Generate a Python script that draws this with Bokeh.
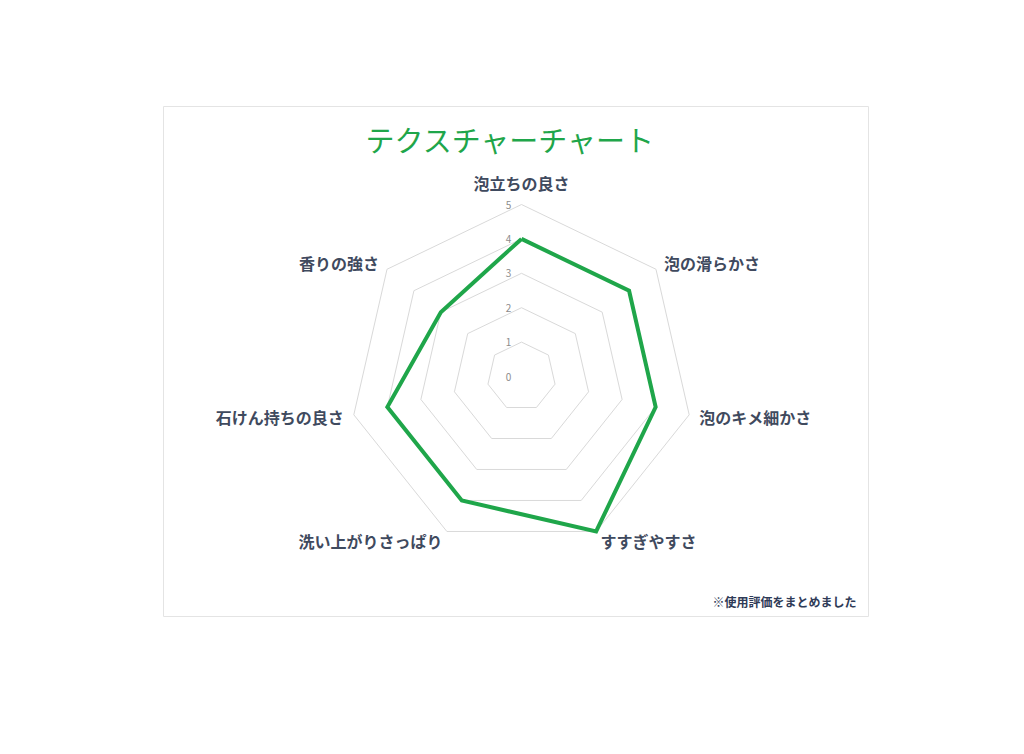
import numpy as np
from bokeh.plotting import figure, ColumnDataSource
from bokeh.models import Label, Range1d
from bokeh.core.properties import value
from bokeh.embed import file_html
from bokeh.resources import INLINE

# データ
categories = ["泡立ちの良さ", "泡の滑らかさ", "泡のキメ細かさ", "すすぎやすさ",
              "洗い上がりさっぱり", "石けん持ちの良さ", "香りの強さ"]
scores = [4, 4, 4, 5, 4, 4, 3]
levels = [0, 1, 2, 3, 4, 5]
title_text = "テクスチャーチャート"
note_text = "※使用評価をまとめました"

FONT = "Noto Sans CJK JP"
GREEN = "#1fa64a"
LABEL_COLOR = "#3f4a5e"

n = len(categories)
ang = np.arange(n) * 2 * np.pi / n
px = 34.4  # pixels per unit

W, H = 706, 511
cx, cy = 358, 270  # centre in frame pixels

p = figure(width=W, height=H, output_backend="svg", toolbar_location=None,
           x_range=Range1d(-cx / px, (W - cx) / px),
           y_range=Range1d(-(H - cy) / px, cy / px),
           min_border=0, margin=(106, 0, 0, 163))
p.axis.visible = False
p.grid.visible = False
p.outline_line_color = "#e4e4e4"
p.outline_line_width = 1
p.background_fill_color = "white"
p.border_fill_color = "white"

# grille (anneaux)
ring_xs, ring_ys = [], []
for lv in levels[1:]:
    ring_xs.append(list(lv * np.sin(ang)) + [0.0])
    ring_ys.append(list(lv * np.cos(ang)) + [lv])
p.multi_line(xs=ring_xs, ys=ring_ys, line_color="#d9d9d9", line_width=1)

# valeurs des graduations
p.text(x=[0] * len(levels), y=levels, text=[str(v) for v in levels],
       x_offset=-13, text_align="center", text_baseline="middle",
       text_font=value(FONT), text_font_size="10px", text_color="#8c8c8c")

# série
sx = list(np.array(scores) * np.sin(ang))
sy = list(np.array(scores) * np.cos(ang))
p.line(sx + [sx[0]], sy + [sy[0]], line_color=GREEN, line_width=4, line_join="miter")

# libellés des catégories
r_lab = 5.3
lx = r_lab * np.sin(ang)
ly = r_lab * np.cos(ang)
aligns = ["center" if abs(s) < 0.1 else ("left" if s > 0 else "right") for s in np.sin(ang)]
yoff = [-11 if abs(s) < 0.1 else 0 for s in np.sin(ang)]
lab_src = ColumnDataSource(dict(x=lx, y=ly, text=categories, align=aligns, yoff=yoff))
p.text(x="x", y="y", text="text", source=lab_src, text_align="align", y_offset="yoff",
       text_baseline="middle", text_font=value(FONT), text_font_size="16px",
       text_font_style="bold", text_color=LABEL_COLOR)

# titre
p.add_layout(Label(x=347, y=H - 32, x_units="screen", y_units="screen", text=title_text,
                   text_align="center", text_baseline="middle", text_font=FONT,
                   text_font_size="29px", text_color=GREEN))

# note
p.add_layout(Label(x=693, y=H - 495, x_units="screen", y_units="screen", text=note_text,
                   text_align="right", text_baseline="middle", text_font=FONT,
                   text_font_size="12px", text_font_style="bold", text_color="#2f3b57"))

open("out.html", "w").write(file_html(p, INLINE))
